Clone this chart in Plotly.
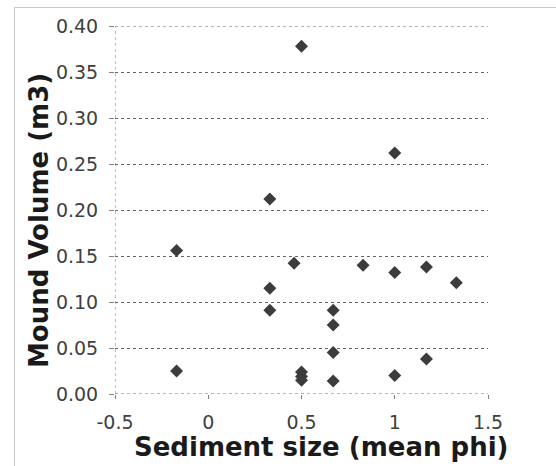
import plotly.graph_objects as go

# Data
sediment_phi = [-0.17, -0.17, 0.33, 0.33, 0.33, 0.46, 0.50, 0.50, 0.50, 0.50,
                0.67, 0.67, 0.67, 0.67, 0.83, 1.00, 1.00, 1.00, 1.17, 1.17, 1.33]
mound_volume = [0.156, 0.025, 0.212, 0.115, 0.091, 0.142, 0.378, 0.024, 0.019, 0.015,
                0.091, 0.075, 0.045, 0.014, 0.140, 0.262, 0.132, 0.020, 0.138, 0.038, 0.121]

x_ticks = [-0.5, 0, 0.5, 1, 1.5]
x_tick_text = ["-0.5", "0", "0.5", "1", "1.5"]
y_ticks = [0.00, 0.05, 0.10, 0.15, 0.20, 0.25, 0.30, 0.35, 0.40]
y_tick_text = ["0.00", "0.05", "0.10", "0.15", "0.20", "0.25", "0.30", "0.35", "0.40"]
y_range = [0.0, 0.40]

x_title = "Sediment size (mean phi)"
y_title = "Mound Volume (m3)"

W, H = 556, 466
L, R, T, B = 115, 68, 26, 72
pw, ph = W - L - R, H - T - B

def px_x(p):
    return (p - L) / pw

def px_y(p):
    return (H - B - p) / ph

fig = go.Figure()
fig.add_trace(go.Scatter(
    x=sediment_phi, y=mound_volume, mode="markers",
    marker=dict(symbol="diamond", size=10, color="#3c3c3c", line=dict(width=0)),
    showlegend=False, hoverinfo="x+y",
))

tickfont = dict(family="DejaVu Sans, Verdana, sans-serif", size=19, color="#404040")
titlefont = dict(family="DejaVu Sans, Verdana, sans-serif", size=26, color="#1a1a1a", weight="bold")
grid_line = dict(color="#666666", width=1, dash="dot")

fig.update_layout(
    width=W, height=H,
    margin=dict(l=L, r=R, t=T, b=B, autoexpand=False),
    paper_bgcolor="white", plot_bgcolor="white",
    xaxis=dict(
        range=[-0.5, 1.5], tickvals=x_ticks, ticktext=x_tick_text,
        showgrid=False, zeroline=False, showline=False,
        ticks="outside", ticklen=4, tickcolor="#808080", tickwidth=1,
        tickfont=tickfont, ticklabelstandoff=7,
    ),
    yaxis=dict(
        range=y_range, tickvals=y_ticks, ticktext=y_tick_text,
        showgrid=True, gridcolor="#666666", gridwidth=1, griddash="dot",
        zeroline=False, showline=False,
        ticks="outside", ticklen=5, tickcolor="#808080", tickwidth=1,
        tickfont=tickfont, ticklabelstandoff=7,
    ),
    annotations=[
        dict(text=x_title, xref="paper", yref="paper", x=px_x(320.5), y=px_y(447),
             xanchor="center", yanchor="middle", showarrow=False, font=titlefont),
        dict(text=y_title, xref="paper", yref="paper", x=px_x(39), y=px_y(221),
             xanchor="center", yanchor="middle", showarrow=False, textangle=-90,
             font=titlefont),
    ],
    shapes=[
        # edge gridlines (plotly drops gridlines sitting on the plot edges)
        dict(type="line", xref="paper", yref="y", x0=0, x1=1, y0=y_range[0], y1=y_range[0],
             line=grid_line, layer="below"),
        dict(type="line", xref="paper", yref="y", x0=0, x1=1, y0=y_range[1], y1=y_range[1],
             line=grid_line, layer="below"),
        dict(type="line", xref="x", yref="paper", x0=-0.5, x1=-0.5, y0=0, y1=1,
             line=dict(color="#808080", width=1, dash="dot"), layer="below"),
        dict(type="rect", xref="paper", yref="paper",
             x0=px_x(14.5), x1=px_x(600), y0=px_y(7.5), y1=px_y(520),
             line=dict(color="#c8c8c8", width=1), fillcolor="rgba(0,0,0,0)", layer="below"),
    ],
)

fig.write_html("out.html")
